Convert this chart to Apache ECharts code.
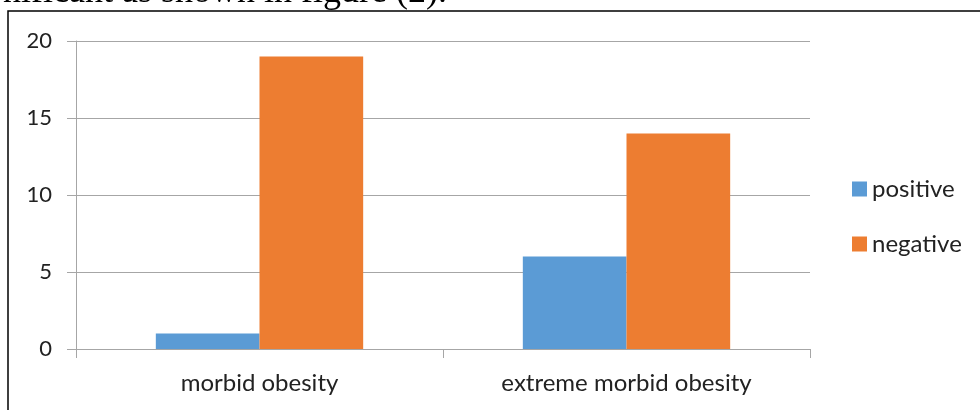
<!DOCTYPE html>
<html>
<head>
<meta charset="utf-8">
<script src="https://cdn.jsdelivr.net/npm/echarts@6/dist/echarts.min.js"></script>
<style>
  html, body { margin: 0; padding: 0; background: #fff; }
  #chart { width: 980px; height: 410px; }
</style>
</head>
<body>
<div id="chart"></div>
<script>
// Obesity class vs. test result counts
const categories = ['morbid obesity', 'extreme morbid obesity'];
const positiveCounts = [1, 6];
const negativeCounts = [19, 14];
const seriesNames = ['positive', 'negative'];
const yTicks = [0, 5, 10, 15, 20];

const chart = echarts.init(document.getElementById('chart'), null, { renderer: 'canvas' });

const labelFont = 'Lato, "Open Sans", sans-serif';

chart.setOption({
  animation: false,
  backgroundColor: '#ffffff',
  graphic: [
    {
      type: 'text',
      x: 447,
      y: 11,
      style: {
        text: 'nificant as shown in figure (2).',
        fontFamily: 'Liberation Serif',
        fontSize: 36,
        fill: '#000',
        align: 'right',
        verticalAlign: 'bottom'
      }
    },
    {
      type: 'rect',
      shape: { x: 8, y: 11, width: 1000, height: 500 },
      style: { fill: 'none', stroke: '#000', lineWidth: 1.5 }
    }
  ],
  legend: {
    orient: 'vertical',
    left: 852,
    top: 177,
    padding: 0,
    itemWidth: 15,
    itemHeight: 15,
    itemGap: 31,
    icon: 'rect',
    data: seriesNames,
    textStyle: { fontFamily: labelFont, fontSize: 24, color: '#222' }
  },
  grid: { left: 76, right: 170, top: 41, bottom: 61, containLabel: false },
  xAxis: {
    type: 'category',
    data: categories,
    axisLine: { lineStyle: { color: '#A6A6A6', width: 1 } },
    axisTick: { show: true, length: 9, lineStyle: { color: '#A6A6A6' } },
    axisLabel: { fontFamily: labelFont, fontSize: 24, color: '#222', margin: 22 }
  },
  yAxis: {
    type: 'value',
    min: yTicks[0],
    max: yTicks[yTicks.length - 1],
    interval: 5,
    axisLine: { show: true, lineStyle: { color: '#A6A6A6', width: 1 } },
    axisTick: { show: true, length: 9, lineStyle: { color: '#A6A6A6' } },
    splitLine: { lineStyle: { color: '#A6A6A6', width: 1 } },
    axisLabel: { fontFamily: labelFont, fontSize: 22, color: '#222', margin: 24 }
  },
  series: [
    {
      name: seriesNames[0],
      type: 'bar',
      data: positiveCounts,
      itemStyle: { color: '#5B9BD5' },
      barGap: '0%',
      barCategoryGap: '43.5%'
    },
    {
      name: seriesNames[1],
      type: 'bar',
      data: negativeCounts,
      itemStyle: { color: '#ED7D31' },
      barGap: '0%',
      barCategoryGap: '43.5%'
    }
  ]
});
</script>
</body>
</html>
